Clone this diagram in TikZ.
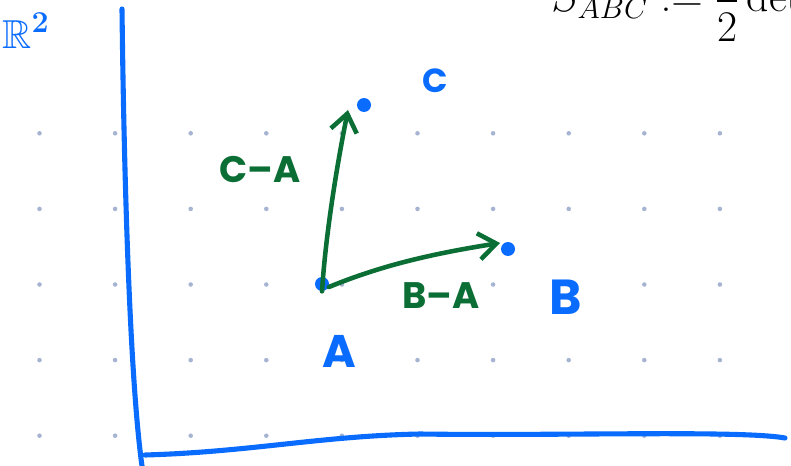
\documentclass[tikz,border=0pt]{standalone}
\usepackage{amsmath,amssymb}
\usepackage{fontspec}
\usepackage{xcolor}
\usepackage{tikz}
\usetikzlibrary{arrows.meta}
\newfontfamily\handfont{Poppins}
\definecolor{penblue}{HTML}{0A6CFF}
\definecolor{pengreen}{HTML}{0B6E35}
\definecolor{griddot}{HTML}{A6B4D2}

\begin{document}
\begin{tikzpicture}[x=0.02cm,y=-0.02cm,
  pt/.style={circle,fill=penblue,inner sep=0pt,minimum size=2.8mm},
  ptlabel/.style={text=penblue,inner sep=0pt,font=\handfont\bfseries\fontsize{#1}{#1}\selectfont},
  ptlabel/.default=26,
  veclabel/.style={text=pengreen,inner sep=0pt,font=\handfont\bfseries\fontsize{21}{21}\selectfont},
  vec/.style={pengreen,line width=2.6pt,line cap=round,
    -{Straight Barb[length=10pt,width=15pt,line width=2.6pt]}},
  axis/.style={penblue,line width=2.9pt,line cap=round}]
  \useasboundingbox (0,0) rectangle (791,466);
  \clip (0,0) rectangle (791,466);
  \foreach \i in {0,...,9}
    \foreach \j in {0,...,4}
      \fill[griddot] (39.5+75.6*\i,133.3+75.6*\j) circle (1.3pt);
  \draw[axis] (122,9) .. controls (124,180) and (130,380) .. (142,466);
  \draw[axis] (145,455) .. controls (250,452) and (320,436) .. (420,434)
    .. controls (560,436) and (740,430) .. (785,438);
  \node[pt] (A) at (322,284) {};
  \node[pt] (B) at (508,249) {};
  \node[pt] (C) at (364,105) {};
  \coordinate (tipC) at (348,110);
  \coordinate (tipB) at (500,243);
  \draw[vec] (A.south) .. controls (326,230) and (338,160) .. (tipC);
  \draw[vec] (A.-25) .. controls (380,266) and (430,254) .. (tipB);
  \node[ptlabel] (labA) at (339,351) {A};
  \node[ptlabel=28] (labB) at (566,297) {B};
  \node[ptlabel=19] (labC) at (435,81) {C};
  \node[veclabel] (labCA) at (260,169) {C–A};
  \node[veclabel] (labBA) at (441,296) {B–A};
  \node[text=penblue,inner sep=0pt,font=\fontsize{23}{23}\selectfont] (plane) at (26,31) {$\boldsymbol{\mathbb{R}}^{\boldsymbol{2}}$};
  \node[anchor=base west,inner sep=0pt,font=\fontsize{25}{26}\selectfont] (area) at (551,12) {$S_{ABC} := \dfrac{1}{2}\det$};
\end{tikzpicture}
\end{document}
